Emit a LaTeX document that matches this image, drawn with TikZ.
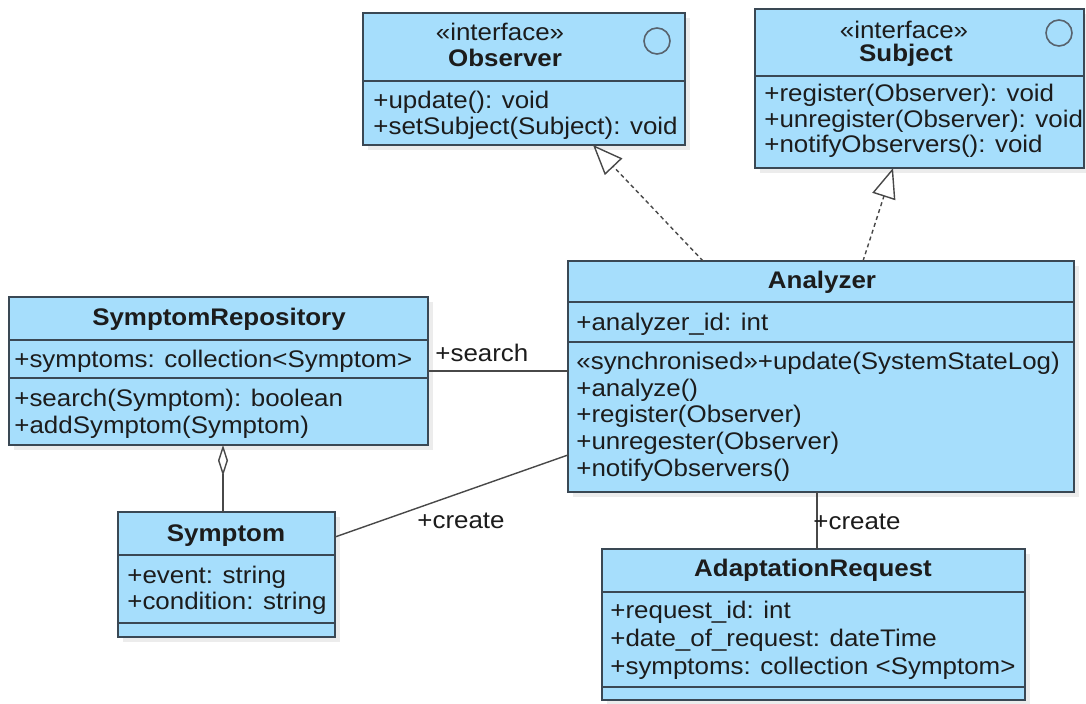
\documentclass[tikz,border=0pt]{standalone}
\usepackage{fontspec}
\setmainfont{Liberation Sans}[FakeStretch=1.08]
\usetikzlibrary{arrows.meta,shadows,fit}

\definecolor{clsfill}{RGB}{166,222,252}
\definecolor{clsline}{RGB}{58,72,84}
\definecolor{txt}{RGB}{28,28,28}
\definecolor{wirecol}{RGB}{72,72,72}

\tikzset{
  cls/.style={draw=clsline, line width=0.9pt, fill=clsfill, inner sep=0pt, outer sep=0pt,
    drop shadow={shadow xshift=2.5pt, shadow yshift=-2.5pt, fill=black!60, opacity=0.12}},
  divider/.style={draw=clsline, line width=0.9pt},
  member/.style={anchor=west, inner sep=0pt, font=\fontsize{12}{14}\selectfont, text=txt,
    text height=8.6pt, text depth=2.4pt},
  title/.style={inner sep=0pt, font=\fontsize{12}{14}\selectfont\bfseries, text=txt,
    text height=8.6pt, text depth=2.4pt},
  stereo/.style={inner sep=0pt, font=\fontsize{12}{14}\selectfont, text=txt,
    text height=8.6pt, text depth=2.4pt},
  badge/.style={draw=clsline!85, line width=0.8pt, circle, minimum size=13pt, inner sep=0pt},
  wire/.style={draw=wirecol, line width=0.7pt},
  realize/.style={wire, dash pattern=on 2pt off 1.6pt,
    -{Triangle[open, length=15pt, width=12pt, fill=white]}},
  aggr/.style={wire, {Diamond[open, length=15.5pt, width=5pt, fill=white]}-},
  lbl/.style={anchor=west, inner sep=0pt, font=\fontsize{12}{14}\selectfont, text=txt,
    text height=8.6pt, text depth=2.4pt}
}

\begin{document}
\begin{tikzpicture}[x=0.5pt, y=-0.5pt]
  \path[use as bounding box, fill=white] (0,0) rectangle (1086,704);

  % ---- corner points of the class boxes ----
  \coordinate (obsA) at (363,13);   \coordinate (obsB) at (685,145);
  \coordinate (subA) at (755,9);    \coordinate (subB) at (1084,168);
  \coordinate (repA) at (9,297);    \coordinate (repB) at (428,445);
  \coordinate (anaA) at (568,261);  \coordinate (anaB) at (1074,492);
  \coordinate (symA) at (118,512);  \coordinate (symB) at (335,637);
  \coordinate (reqA) at (602,549);  \coordinate (reqB) at (1025,700);

  % ---- class boxes ----
  \node[cls, fit=(obsA)(obsB)] (obs) {};
  \node[cls, fit=(subA)(subB)] (sub) {};
  \node[cls, fit=(repA)(repB)] (repo) {};
  \node[cls, fit=(anaA)(anaB)] (ana) {};
  \node[cls, fit=(symA)(symB)] (sym) {};
  \node[cls, fit=(reqA)(reqB)] (req) {};

  % ---- compartment dividers ----
  \draw[divider] (obs.west |- 0,81)  -- (obs.east |- 0,81);
  \draw[divider] (sub.west |- 0,76)  -- (sub.east |- 0,76);
  \draw[divider] (repo.west |- 0,340) -- (repo.east |- 0,340);
  \draw[divider] (repo.west |- 0,378) -- (repo.east |- 0,378);
  \draw[divider] (ana.west |- 0,302) -- (ana.east |- 0,302);
  \draw[divider] (ana.west |- 0,342) -- (ana.east |- 0,342);
  \draw[divider] (sym.west |- 0,555) -- (sym.east |- 0,555);
  \draw[divider] (sym.west |- 0,623) -- (sym.east |- 0,623);
  \draw[divider] (req.west |- 0,592) -- (req.east |- 0,592);
  \draw[divider] (req.west |- 0,687) -- (req.east |- 0,687);

  % ---- Observer ----
  \node[stereo] (obsSt) at (500,34) {«interface»};
  \node[title]  (obsT)  at (505,60) {Observer};
  \node[badge]  (obsC)  at (657,41) {};
  \node[member] (obsM1) at (373,102) {+update(): void};
  \node[member] (obsM2) at (373,128) {+setSubject(Subject): void};

  % ---- Subject ----
  \node[stereo] (subSt) at (904,32) {«interface»};
  \node[title]  (subT)  at (906,55) {Subject};
  \node[badge]  (subC)  at (1059,33) {};
  \node[member] (subM1) at (764,95)  {+register(Observer): void};
  \node[member] (subM2) at (764,121) {+unregister(Observer): void};
  \node[member] (subM3) at (764,146) {+notifyObservers(): void};

  % ---- SymptomRepository ----
  \node[title]  (repT)  at (219,319) {SymptomRepository};
  \node[member] (repA1) at (14,361) {+symptoms: collection<Symptom>};
  \node[member] (repM1) at (14,400) {+search(Symptom): boolean};
  \node[member] (repM2) at (14,427) {+addSymptom(Symptom)};

  % ---- Analyzer ----
  \node[title]  (anaT)  at (822,282) {Analyzer};
  \node[member] (anaA1) at (576,324) {+analyzer\_id: int};
  \node[member] (anaM1) at (576,363) {«synchronised»+update(SystemStateLog)};
  \node[member] (anaM2) at (576,390) {+analyze()};
  \node[member] (anaM3) at (576,416) {+register(Observer)};
  \node[member] (anaM4) at (576,443) {+unregester(Observer)};
  \node[member] (anaM5) at (576,470) {+notifyObservers()};

  % ---- Symptom ----
  \node[title]  (symT)  at (226,535) {Symptom};
  \node[member] (symA1) at (127,577) {+event: string};
  \node[member] (symA2) at (127,603) {+condition: string};

  % ---- AdaptationRequest ----
  \node[title]  (reqT)  at (813,570) {AdaptationRequest};
  \node[member] (reqA1) at (610,612) {+request\_id: int};
  \node[member] (reqA2) at (610,640) {+date\_of\_request: dateTime};
  \node[member] (reqA3) at (610,668) {+symptoms: collection <Symptom>};

  % ---- relations ----
  % realizations of the two interfaces
  \draw[realize] ([xshift=67.5pt]ana.north west) -- ([xshift=115pt]obs.south west);
  \draw[realize] ([xshift=147.5pt]ana.north west) -- ([xshift=69pt]sub.south west);

  % association: search
  \draw[wire] (repo.east) -- (ana.west |- repo.east);
  \node[lbl] (lSearch) at (435,355) {+search};

  % aggregation of symptoms in the repository
  \draw[aggr] ([xshift=107pt]repo.south west) -- ([xshift=52.5pt]sym.north west);

  % association: create symptom
  \draw[wire] ([yshift=-12.5pt]sym.north east) -- ([yshift=-97pt]ana.north west);
  \node[lbl] (lCreate1) at (417,522) {+create};

  % association: create adaptation request
  \draw[wire] ([xshift=124.5pt]ana.south west) -- ([xshift=107.5pt]req.north west);
  \node[lbl] (lCreate2) at (813,523) {+create};
\end{tikzpicture}
\end{document}
